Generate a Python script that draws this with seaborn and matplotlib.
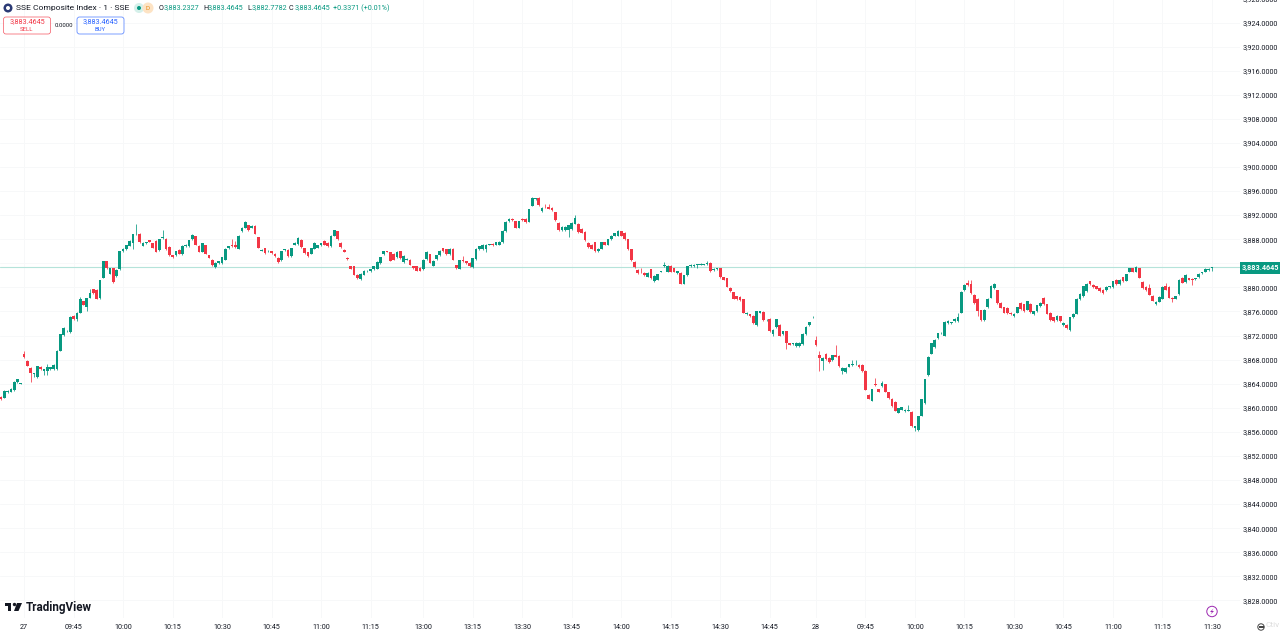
"""SSE Composite 1 minute candles, TradingView look."""

import matplotlib
matplotlib.use("Agg")
import matplotlib.pyplot as plt
from matplotlib.patches import Circle, FancyBboxPatch, Rectangle
import numpy as np
import pandas as pd
import seaborn as sns

sns.set_theme(style="white")
plt.rcParams["font.family"] = ["Roboto", "DejaVu Sans"]

opens = [
    3861.8, 3861.7, 3862.6, 3862.7, 3862.9, 3864.2, 3864.0, 3869.0, 3867.8, 3866.6,
    3865.6, 3865.1, 3866.8, 3866.1, 3866.1, 3866.4, 3866.4, 3866.4, 3869.5, 3872.1,
    3872.7, 3872.6, 3875.3, 3874.7, 3875.8, 3877.7, 3876.8, 3878.3, 3879.7, 3879.6,
    3878.2, 3881.6, 3884.3, 3882.3, 3883.2, 3881.9, 3883.0, 3886.0, 3886.3, 3886.9,
    3887.4, 3888.8, 3888.9, 3886.9, 3887.3, 3887.8, 3887.3, 3887.7, 3886.2, 3888.2,
    3888.1, 3886.7, 3885.3, 3885.3, 3886.2, 3885.5, 3886.8, 3886.8, 3888.0, 3888.5,
    3886.9, 3885.9, 3887.0, 3885.3, 3884.6, 3883.4, 3884.0, 3884.0, 3884.6, 3886.5,
    3887.0, 3887.0, 3886.4, 3889.3, 3889.9, 3890.3, 3889.9, 3890.2, 3888.3, 3886.1,
    3886.5, 3886.0, 3886.0, 3885.6, 3884.9, 3884.5, 3886.2, 3886.2, 3885.2, 3887.1,
    3887.2, 3887.9, 3886.5, 3885.8, 3885.6, 3886.4, 3886.6, 3887.0, 3887.7, 3887.4,
    3886.8, 3888.6, 3889.3, 3887.4, 3886.2, 3884.9, 3883.5, 3883.5, 3882.1, 3881.4,
    3882.1, 3882.7, 3882.7, 3883.0, 3883.1, 3884.0, 3885.5, 3886.0, 3885.8, 3885.6,
    3885.0, 3886.0, 3884.2, 3884.6, 3884.6, 3883.5, 3883.5, 3883.3, 3883.0, 3884.7,
    3885.5, 3883.6, 3884.7, 3885.3, 3886.5, 3886.3, 3885.5, 3886.4, 3883.7, 3883.1,
    3884.5, 3884.3, 3884.1, 3883.4, 3884.7, 3886.3, 3886.3, 3886.4, 3887.1, 3887.2,
    3887.1, 3887.1, 3887.5, 3889.3, 3891.0, 3891.4, 3891.0, 3889.9, 3891.4, 3891.4,
    3890.9, 3893.6, 3894.6, 3894.9, 3892.7, 3893.4, 3893.4, 3893.2, 3892.5, 3890.7,
    3889.5, 3889.5, 3889.5, 3889.7, 3890.6, 3890.6, 3889.7, 3889.2, 3887.4, 3887.1,
    3887.5, 3886.0, 3886.4, 3887.5, 3887.1, 3888.0, 3888.6, 3888.6, 3889.3, 3889.1,
    3888.0, 3886.3, 3884.2, 3882.9, 3882.6, 3882.4, 3881.8, 3883.0, 3881.0, 3881.3,
    3882.6, 3883.5, 3882.6, 3883.6, 3883.2, 3882.4, 3882.4, 3880.6, 3882.0, 3883.5,
    3883.5, 3883.8, 3883.8, 3883.8, 3883.9, 3884.1, 3882.9, 3883.0, 3883.2, 3881.7,
    3881.5, 3879.9, 3879.2, 3878.5, 3878.4, 3878.0, 3875.5, 3875.5, 3875.3, 3873.7,
    3875.8, 3875.9, 3874.5, 3874.8, 3872.2, 3873.4, 3873.8, 3872.2, 3872.7, 3870.7,
    3870.6, 3870.2, 3870.2, 3870.6, 3872.2, 3873.7, 3875.0, 3871.3, 3868.7, 3867.7,
    3869.0, 3868.3, 3867.9, 3868.7, 3868.6, 3866.1, 3865.9, 3866.8, 3867.1, 3867.2,
    3867.1, 3867.1, 3866.1, 3862.2, 3861.2, 3864.0, 3863.1, 3863.6, 3863.9, 3862.6,
    3861.5, 3861.0, 3859.2, 3859.7, 3859.4, 3859.5, 3859.3, 3856.7, 3856.3, 3858.7,
    3860.8, 3865.4, 3869.0, 3870.1, 3871.6, 3872.4, 3872.0, 3874.1, 3874.1, 3874.4,
    3874.4, 3875.8, 3879.5, 3880.8, 3880.5, 3878.8, 3878.1, 3876.2, 3874.5, 3876.7,
    3878.3, 3879.9, 3879.5, 3877.4, 3876.7, 3876.6, 3875.8, 3875.2, 3875.8, 3877.4,
    3877.2, 3876.3, 3877.3, 3875.5, 3876.0, 3876.9, 3878.3, 3877.2, 3875.8, 3875.0,
    3874.5, 3875.2, 3873.7, 3873.8, 3873.0, 3875.0, 3875.6, 3878.0, 3878.5, 3879.4,
    3881.0, 3880.4, 3880.2, 3879.9, 3879.6, 3879.5, 3880.0, 3880.0, 3881.3, 3880.5,
    3881.7, 3881.1, 3882.6, 3883.2, 3882.6, 3883.2, 3880.9, 3880.1, 3879.9, 3878.6,
    3877.2, 3877.6, 3878.1, 3880.3, 3880.1, 3878.3, 3878.1, 3878.9, 3881.6, 3880.9,
    3881.5, 3881.4, 3881.4, 3881.7, 3882.4, 3882.6, 3882.9, 3883.2327,
]
closes = [
    3861.4, 3862.8, 3862.8, 3863.2, 3864.3, 3864.7, 3864.0, 3868.4, 3867.0, 3865.8,
    3865.7, 3866.9, 3866.4, 3866.4, 3866.7, 3866.7, 3867.1, 3869.5, 3872.2, 3873.3,
    3872.8, 3875.1, 3874.7, 3875.8, 3878.0, 3877.1, 3878.2, 3879.0, 3879.0, 3878.1,
    3881.2, 3884.3, 3883.2, 3883.2, 3880.9, 3882.9, 3886.0, 3886.4, 3887.0, 3887.7,
    3888.8, 3888.9, 3887.5, 3887.4, 3887.5, 3887.6, 3886.6, 3885.9, 3888.0, 3888.3,
    3886.3, 3885.3, 3885.0, 3886.0, 3885.6, 3886.9, 3887.1, 3887.8, 3888.7, 3887.1,
    3885.9, 3887.3, 3885.6, 3884.9, 3883.7, 3884.1, 3884.3, 3885.0, 3886.4, 3886.8,
    3886.8, 3886.7, 3888.6, 3889.9, 3890.9, 3889.5, 3890.2, 3888.9, 3886.6, 3886.2,
    3885.7, 3886.1, 3885.7, 3885.2, 3884.2, 3886.0, 3886.3, 3885.2, 3886.5, 3887.4,
    3888.2, 3886.7, 3885.7, 3885.2, 3886.5, 3887.4, 3887.0, 3887.3, 3887.1, 3886.8,
    3888.6, 3889.5, 3888.0, 3886.7, 3885.9, 3884.7, 3883.1, 3882.1, 3881.5, 3882.3,
    3882.8, 3882.8, 3883.0, 3883.5, 3884.2, 3885.0, 3886.0, 3885.9, 3884.4, 3884.6,
    3885.9, 3884.8, 3885.2, 3884.7, 3883.8, 3883.2, 3882.8, 3882.8, 3884.6, 3885.9,
    3884.1, 3884.4, 3885.3, 3886.1, 3886.0, 3885.5, 3886.4, 3884.6, 3883.2, 3884.5,
    3884.3, 3884.0, 3883.5, 3884.8, 3886.4, 3886.8, 3887.1, 3887.1, 3887.1, 3887.0,
    3887.5, 3887.6, 3889.4, 3890.9, 3891.4, 3891.2, 3889.9, 3891.0, 3891.2, 3890.8,
    3893.0, 3894.9, 3894.8, 3893.7, 3893.2, 3893.3, 3893.1, 3892.8, 3891.2, 3889.5,
    3890.1, 3890.1, 3890.3, 3890.7, 3891.6, 3889.2, 3889.1, 3887.8, 3886.7, 3886.4,
    3886.0, 3886.4, 3887.5, 3887.1, 3888.0, 3888.6, 3889.0, 3889.4, 3888.6, 3888.0,
    3886.3, 3884.5, 3883.4, 3882.4, 3882.5, 3882.0, 3882.4, 3881.5, 3881.9, 3882.2,
    3882.6, 3883.8, 3883.6, 3882.6, 3882.6, 3882.7, 3880.6, 3882.0, 3883.5, 3883.8,
    3883.8, 3883.8, 3883.9, 3883.8, 3884.0, 3882.7, 3883.1, 3883.2, 3881.7, 3881.3,
    3880.1, 3879.4, 3878.1, 3878.0, 3877.9, 3875.8, 3875.8, 3875.2, 3874.1, 3876.0,
    3876.0, 3874.5, 3874.6, 3872.7, 3873.0, 3874.7, 3872.0, 3872.7, 3870.8, 3870.5,
    3870.6, 3870.8, 3870.8, 3872.3, 3873.5, 3874.2, 3875.1, 3870.4, 3868.3, 3868.3,
    3868.1, 3867.6, 3868.7, 3868.5, 3866.9, 3866.6, 3866.6, 3867.2, 3867.3, 3867.3,
    3866.7, 3866.1, 3863.0, 3861.5, 3863.1, 3863.8, 3862.7, 3864.1, 3862.7, 3861.6,
    3860.3, 3859.5, 3859.9, 3860.1, 3859.7, 3859.6, 3856.9, 3856.9, 3858.6, 3861.4,
    3864.7, 3868.5, 3870.7, 3871.3, 3872.4, 3872.5, 3874.3, 3874.4, 3874.2, 3874.8,
    3875.0, 3879.3, 3880.4, 3880.4, 3879.0, 3877.4, 3876.0, 3874.5, 3876.3, 3878.1,
    3880.3, 3880.6, 3877.4, 3876.6, 3875.8, 3875.7, 3875.5, 3875.6, 3876.7, 3876.4,
    3876.0, 3877.7, 3875.9, 3876.0, 3877.0, 3877.4, 3877.2, 3875.6, 3874.5, 3874.4,
    3875.3, 3874.4, 3874.1, 3873.2, 3875.0, 3875.6, 3878.1, 3878.9, 3880.2, 3880.6,
    3880.5, 3880.0, 3879.8, 3879.4, 3879.0, 3880.1, 3880.2, 3881.0, 3880.5, 3881.3,
    3881.0, 3882.2, 3883.2, 3882.6, 3883.4, 3881.6, 3879.9, 3879.5, 3878.8, 3877.8,
    3877.6, 3878.4, 3880.1, 3879.6, 3878.3, 3878.0, 3878.5, 3881.3, 3880.8, 3882.1,
    3881.3, 3881.2, 3881.5, 3882.3, 3882.5, 3883.1, 3883.1, 3883.4645,
]
# bars whose wicks reach visibly past the body
high_marks = {
    7: 3869.4, 14: 3867.2, 24: 3878.4, 27: 3879.8, 41: 3890.5, 49: 3889.5, 70: 3888.1,
    71: 3887.7, 140: 3885.2, 165: 3893.8, 166: 3893.9, 174: 3892.0, 194: 3883.2,
    201: 3884.2, 214: 3884.4, 247: 3871.9, 248: 3869.4, 253: 3870.5, 258: 3868.0,
    259: 3868.0, 265: 3865.0, 267: 3864.5, 275: 3860.4, 290: 3875.8, 293: 3881.2,
    294: 3881.3, 344: 3883.6, 348: 3880.5, 353: 3880.8, 367: 3883.4645,
}
low_marks = {
    9: 3864.3, 10: 3865.1, 13: 3865.4, 14: 3865.4, 23: 3874.4, 26: 3876.1, 40: 3886.3,
    147: 3885.8, 172: 3888.3, 211: 3883.2, 234: 3872.0, 238: 3869.8, 248: 3866.1,
    249: 3866.3, 255: 3865.6, 277: 3856.2, 296: 3875.2, 324: 3872.7, 355: 3877.6,
    361: 3880.4, 367: 3882.7782,
}

price_ticks = list(range(3828, 3932, 4))
time_ticks = [7, 22, 37, 52, 67, 82, 97, 112, 128, 143, 158, 173, 188, 203, 218, 233,
              247, 262, 277, 292, 307, 322, 337, 352, 367]
time_labels = ["27", "09:45", "10:00", "10:15", "10:30", "10:45", "11:00", "11:15",
               "13:00", "13:15", "13:30", "13:45", "14:00", "14:15", "14:30", "14:45",
               "28", "09:45", "10:00", "10:15", "10:30", "10:45", "11:00", "11:15", "11:30"]
last_price = 3883.4645

UP = "#089981"
DOWN = "#F23645"
TEXT = "#131722"
GRID = "#f7f8f9"

df = pd.DataFrame({"open": opens, "close": closes})
df["bar"] = np.arange(len(df))
df["high"] = [high_marks.get(i, max(o, c) + 0.1) for i, (o, c) in enumerate(zip(opens, closes))]
df["low"] = [low_marks.get(i, min(o, c) - 0.1) for i, (o, c) in enumerate(zip(opens, closes))]
df["color"] = np.where(df["close"] < df["open"], DOWN, UP)

fig = plt.figure(figsize=(12.8, 6.34), dpi=100)
ax = fig.add_axes([0, 16 / 634, 1240 / 1280, 620 / 634])

ax.vlines(df["bar"], df["low"], df["high"], colors=df["color"], lw=0.55, zorder=3)
heights = (df["close"] - df["open"]).abs().clip(lower=0.1)
ax.bar(df["bar"], heights, bottom=df[["open", "close"]].min(axis=1), width=0.82,
       color=df["color"], linewidth=0, zorder=4)
ax.axhline(last_price, color="#b5e3da", lw=0.8, zorder=2)

ax.set_xlim(-0.3, 375.5)
ax.set_ylim(3924 - 595.5 / 6.02, 3924 + 24.5 / 6.02)
ax.set_xticks(time_ticks)
ax.set_xticklabels(time_labels)
ax.set_yticks(price_ticks)
ax.set_yticklabels([f"{p:,.4f}" for p in price_ticks])
ax.yaxis.tick_right()
ax.tick_params(axis="both", length=0, labelsize=5.2, labelcolor=TEXT)
ax.tick_params(axis="x", pad=4.5)
ax.tick_params(axis="y", pad=2)
ax.grid(True, color=GRID, lw=0.7)
ax.set_axisbelow(True)
sns.despine(ax=ax, left=True, bottom=True, top=True, right=True)

# header, price tag and logos, in pixel coordinates
ov = fig.add_axes([0, 0, 1, 1])
ov.set_xlim(0, 1280)
ov.set_ylim(634, 0)
ov.axis("off")
ov.patch.set_alpha(0)

ov.add_patch(Rectangle((1240, 262), 40, 12, fc=UP, ec="none"))
ov.text(1260, 268, "3,883.4645", color="white", fontsize=5.2, fontweight="bold", ha="center", va="center")

ov.add_patch(Circle((8, 8), 4.5, fc="#2b3a75", ec="none"))
ov.add_patch(Circle((8, 8), 2, fc="white", ec="none"))
ov.text(15.5, 8, "SSE Composite Index · 1 · SSE", color=TEXT, fontsize=6.1, va="center")
ov.add_patch(Circle((139, 8), 5, fc="#d5f0ea", ec="none"))
ov.add_patch(Circle((139, 8), 2, fc=UP, ec="none"))
ov.add_patch(Circle((148, 8), 5.5, fc="#fde3c4", ec="none"))
ov.text(148, 8, "D", color="#e88a1a", fontsize=4.6, ha="center", va="center")

for label, value, lab_x, val_x in [("O", "3,883.2327", 159, 164), ("H", "3,883.4645", 203, 208),
                                   ("L", "3,882.7782", 247, 252), ("C", "3,883.4645", 289, 295)]:
    ov.text(lab_x, 8, label, color=TEXT, fontsize=5.2, va="center")
    ov.text(val_x, 8, value, color=UP, fontsize=5.2, va="center")
ov.text(333, 8, "+0.3371 (+0.01%)", color=UP, fontsize=5.2, va="center", ha="left")

ov.add_patch(FancyBboxPatch((3.5, 17), 47, 17, boxstyle="round,pad=0,rounding_size=2.5",
                            fc="white", ec=DOWN, lw=0.5, alpha=0.85))
ov.text(27, 21.5, "3,883.4645", color=DOWN, fontsize=5.2, ha="center", va="center")
ov.text(27, 29.5, "SELL", color=DOWN, fontsize=4.3, ha="center", va="center")
ov.text(64, 25.5, "0.0000", color=TEXT, fontsize=4.3, ha="center", va="center")
ov.add_patch(FancyBboxPatch((77, 17), 47, 17, boxstyle="round,pad=0,rounding_size=2.5",
                            fc="white", ec="#2962FF", lw=0.5, alpha=0.85))
ov.text(100, 21.5, "3,883.4645", color="#2962FF", fontsize=5.2, ha="center", va="center")
ov.text(100, 29.5, "BUY", color="#2962FF", fontsize=4.3, ha="center", va="center")

# TradingView mark
ov.add_patch(Rectangle((5, 603), 6, 3, fc=TEXT, ec="none"))
ov.add_patch(Rectangle((8, 603), 3, 8, fc=TEXT, ec="none"))
ov.add_patch(Circle((14.5, 604.5), 1.7, fc=TEXT, ec="none"))
ov.fill([17, 22, 18.5, 14], [603, 603, 611, 611], color=TEXT, lw=0)
ov.text(25.5, 607, "TradingView", color=TEXT, fontsize=8.4, fontweight="bold", va="center")

ov.add_patch(Circle((1212, 611.5), 5.2, fc="white", ec="#9c27b0", lw=0.7))
ov.fill([1213.5, 1210, 1212, 1210.5, 1214, 1212], [608.5, 612, 612, 614.5, 611, 611], color="#9c27b0", lw=0)
ov.add_patch(Circle((1261, 627), 3.2, fc="white", ec="#444444", lw=0.7))
ov.add_patch(Rectangle((1258.5, 625.5), 5, 2, fc="#444444", ec="none"))
ov.text(1266, 625, "Ctiv", color="#dddddd", fontsize=6, va="center")

fig.savefig("out.png", dpi=100)
